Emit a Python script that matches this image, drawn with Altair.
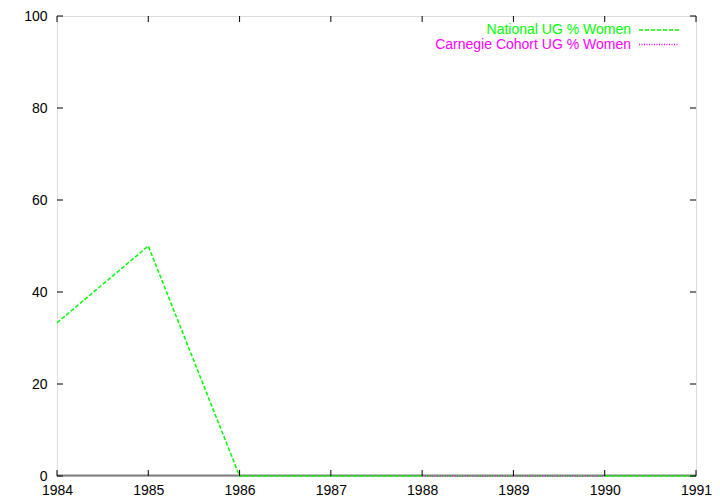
import altair as alt
import pandas as pd

years = [1984, 1985, 1986, 1987, 1988, 1989, 1990, 1991]
national = [33.3, 50, 0, 0, 0, 0, 0, 0]
carnegie_years = [1988, 1989, 1990]
carnegie = [0, 0, 0]
y_ticks = [0, 20, 40, 60, 80, 100]
series_names = ["National UG % Women", "Carnegie Cohort UG % Women"]
series_colors = ["#00ff00", "#ff00ff"]

W, H = 639, 460
FONT = "Liberation Sans"
FS = 14

nat_df = pd.DataFrame({"year": years, "value": national})
car_df = pd.DataFrame({"year": carnegie_years, "value": carnegie})
xt_df = pd.DataFrame({"year": years})
yt_df = pd.DataFrame({"v": y_ticks})
one = pd.DataFrame({"a": [0]})

xscale = alt.Scale(domain=[1984, 1991], nice=False, zero=False)
yscale = alt.Scale(domain=[0, 100], nice=False)

xaxis = alt.Axis(values=years, format="d", title=None, grid=False, domain=False,
                 ticks=False, labelPadding=7, labelFontSize=FS, labelFont=FONT,
                 labelColor="black", labelFlush=False, labelOverlap=False)
yaxis = alt.Axis(values=y_ticks, title=None, grid=False, domain=False,
                 ticks=False, labelPadding=10, labelFontSize=FS, labelFont=FONT,
                 labelColor="black")

zero_axis = alt.Chart(one).mark_rule(color="#808080", strokeWidth=2).encode(
    x=alt.value(0), x2=alt.value(W), y=alt.value(H - 0.5))

nat = alt.Chart(nat_df).mark_line(color=series_colors[0], strokeWidth=1.5,
                                  strokeDash=[4, 2]).encode(
    x=alt.X("year:Q", scale=xscale, axis=xaxis),
    y=alt.Y("value:Q", scale=yscale, axis=yaxis))

car = alt.Chart(car_df).mark_line(color=series_colors[1], strokeWidth=1.5,
                                  strokeDash=[1, 1.5]).encode(
    x=alt.X("year:Q", scale=xscale),
    y=alt.Y("value:Q", scale=yscale))

tick_style = dict(color="black", strokeWidth=1)
xt_bot = alt.Chart(xt_df).mark_rule(**tick_style).encode(
    x=alt.X("year:Q", scale=xscale), y=alt.value(H), y2=alt.value(H - 6))
xt_top = alt.Chart(xt_df).mark_rule(**tick_style).encode(
    x=alt.X("year:Q", scale=xscale), y=alt.value(0), y2=alt.value(6))
yt_left = alt.Chart(yt_df).mark_rule(**tick_style).encode(
    y=alt.Y("v:Q", scale=yscale), x=alt.value(0), x2=alt.value(6))
yt_right = alt.Chart(yt_df).mark_rule(**tick_style).encode(
    y=alt.Y("v:Q", scale=yscale), x=alt.value(W), x2=alt.value(W - 6))

leg_layers = []
rows_y = [14, 28.5]
dashes = [[4, 2], [1, 1.5]]
for name, col, yy, dsh in zip(series_names, series_colors, rows_y, dashes):
    leg_layers.append(alt.Chart(one).mark_text(align="right", baseline="middle",
                                               font=FONT, fontSize=FS, color=col).encode(
        x=alt.value(574), y=alt.value(yy), text=alt.value(name)))
    leg_layers.append(alt.Chart(one).mark_rule(color=col, strokeWidth=1.5,
                                               strokeDash=dsh).encode(
        x=alt.value(582), x2=alt.value(622), y=alt.value(yy)))

chart = alt.layer(zero_axis, nat, car, xt_bot, xt_top, yt_left, yt_right,
                  *leg_layers).properties(
    width=W, height=H,
    autosize=alt.AutoSizeParams(type="none"),
    padding={"left": 49, "top": 8, "right": 16, "bottom": 20},
).configure_view(stroke="black", strokeWidth=1).configure(background="white")

chart.save("out.html", embed_options={"renderer": "svg", "actions": False})
